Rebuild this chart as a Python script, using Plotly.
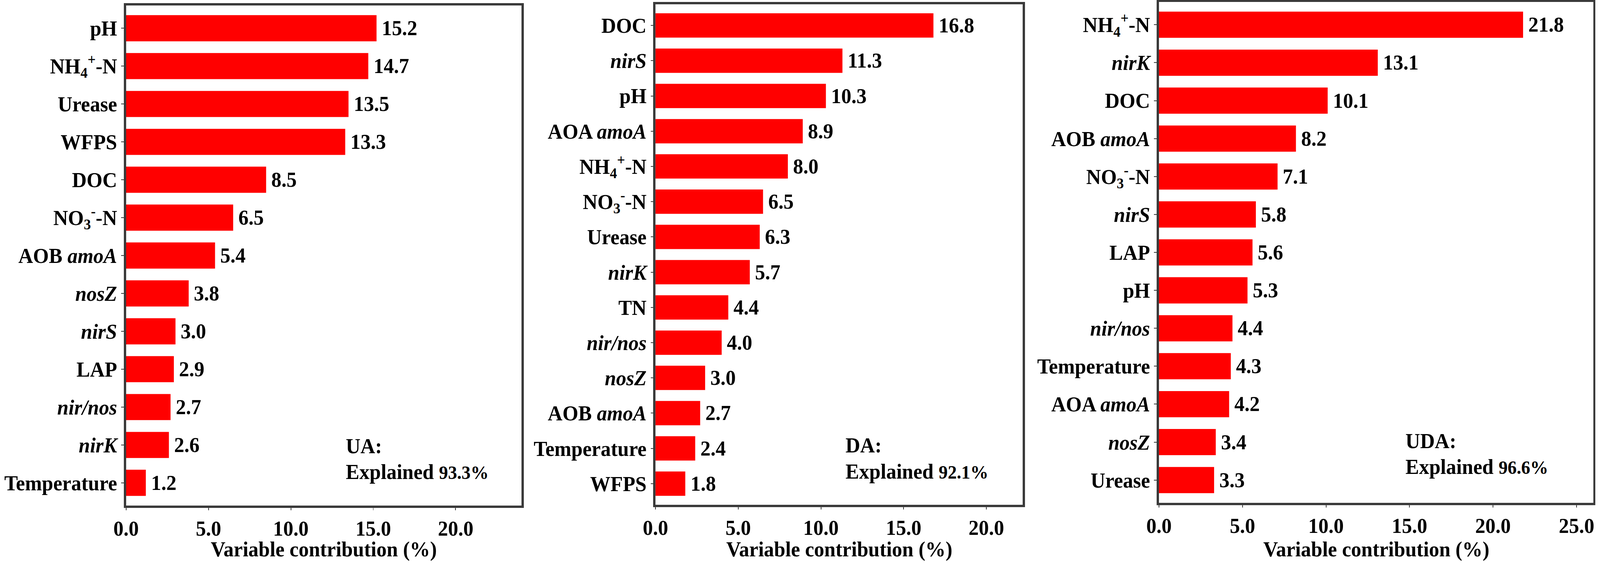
import plotly.graph_objects as go

NH4 = "NH<sub>4</sub><sup>+</sup>-N"
NO3 = "NO<sub>3</sub><sup>-</sup>-N"

ua_labels = ["pH", NH4, "Urease", "WFPS", "DOC", NO3, "AOB <i>amoA</i>", "<i>nosZ</i>",
             "<i>nirS</i>", "LAP", "<i>nir/nos</i>", "<i>nirK</i>", "Temperature"]
ua_values = [15.2, 14.7, 13.5, 13.3, 8.5, 6.5, 5.4, 3.8, 3.0, 2.9, 2.7, 2.6, 1.2]

da_labels = ["DOC", "<i>nirS</i>", "pH", "AOA <i>amoA</i>", NH4, NO3, "Urease", "<i>nirK</i>",
             "TN", "<i>nir/nos</i>", "<i>nosZ</i>", "AOB <i>amoA</i>", "Temperature", "WFPS"]
da_values = [16.8, 11.3, 10.3, 8.9, 8.0, 6.5, 6.3, 5.7, 4.4, 4.0, 3.0, 2.7, 2.4, 1.8]

uda_labels = [NH4, "<i>nirK</i>", "DOC", "AOB <i>amoA</i>", NO3, "<i>nirS</i>", "LAP", "pH",
              "<i>nir/nos</i>", "Temperature", "AOA <i>amoA</i>", "<i>nosZ</i>", "Urease"]
uda_values = [21.8, 13.1, 10.1, 8.2, 7.1, 5.8, 5.6, 5.3, 4.4, 4.3, 4.2, 3.4, 3.3]

panel_names = ["UA:", "DA:", "UDA:"]
explained = ["93.3%", "92.1%", "96.6%"]
x_title = "Variable contribution (%)"

W, H = 4252, 1441
FONT = "Liberation Serif"
FS = 54
LINE = "#3a3a3a"

panels = [
    dict(labels=ua_labels, values=ua_values, xd=[335, 1386], yd=[14, 1294], xmax=24.0,
         ann=(917, 1142, 1208)),
    dict(labels=da_labels, values=da_values, xd=[1742, 2718], yd=[11, 1292], xmax=22.2,
         ann=(2245, 1140, 1207)),
    dict(labels=uda_labels, values=uda_values, xd=[3080, 4234], yd=[5, 1287], xmax=26.0,
         ann=(3733, 1129, 1195)),
]

def font(size=FS):
    return dict(family=FONT, size=size, color="black", weight="bold")

fig = go.Figure()
annotations = []
for i, p in enumerate(panels):
    k = "" if i == 0 else str(i + 1)
    n = len(p["labels"])
    fig.add_trace(go.Bar(
        x=p["values"], y=p["labels"], orientation="h",
        marker=dict(color="#ff0000", line=dict(width=0)),
        width=0.69,
        text=["\u2009" + f"{v:.1f}" for v in p["values"]],
        textposition="outside", constraintext="none", cliponaxis=False,
        textfont=font(),
        xaxis="x" + k, yaxis="y" + k, showlegend=False, hoverinfo="skip",
    ))
    xdom = [p["xd"][0] / W, p["xd"][1] / W]
    ydom = [1 - p["yd"][1] / H, 1 - p["yd"][0] / H]
    fig.update_layout(**{
        "xaxis" + k: dict(
            domain=xdom, anchor="y" + k, range=[0, p["xmax"]], dtick=5, tick0=0,
            tickformat=".1f", showgrid=False, zeroline=False, automargin=False,
            showline=True, linecolor=LINE, linewidth=6, mirror=True,
            ticks="outside", ticklen=6, tickwidth=2, tickcolor=LINE,
            tickfont=font(),
        ),
        "yaxis" + k: dict(
            domain=ydom, anchor="x" + k, type="category", automargin=False,
            categoryorder="array", categoryarray=p["labels"],
            range=[n - 1 + 0.6, -0.6], showgrid=False, zeroline=False,
            showline=True, linecolor=LINE, linewidth=6, mirror=True,
            ticks="outside", ticklen=7, tickwidth=2, tickcolor=LINE,
            tickfont=font(),
        ),
    })
    ax, y1, y2 = p["ann"]
    annotations.append(dict(
        x=ax / W, y=1 - y1 / H, xref="paper", yref="paper", xanchor="left", yanchor="middle",
        text=panel_names[i], showarrow=False, font=font()))
    annotations.append(dict(
        x=ax / W, y=1 - y2 / H, xref="paper", yref="paper", xanchor="left", yanchor="middle",
        text="Explained <span style='font-size:48px'>" + explained[i] + "</span>",
        showarrow=False, font=font()))
    annotations.append(dict(
        x=(xdom[0] + xdom[1]) / 2, y=1 - 1406 / H, xref="paper", yref="paper",
        xanchor="center", yanchor="middle", text=x_title, showarrow=False, font=font()))

fig.update_layout(
    template="none",
    width=W, height=H,
    margin=dict(l=0, r=0, t=0, b=0, autoexpand=False),
    paper_bgcolor="white", plot_bgcolor="white",
    font=font(),
    annotations=annotations, bargap=0.3,
)

# fit the fixed 4252x1441 figure into whatever viewport the page is shown in
post = (
    "document.documentElement.style.margin='0';"
    "document.documentElement.style.overflow='hidden';"
    "document.body.style.margin='0';"
    "document.body.style.overflow='hidden';"
    "var gd=document.getElementById('{plot_id}');"
    "var sx=window.innerWidth/%d, sy=window.innerHeight/%d;"
    "gd.style.transformOrigin='0 0';"
    "gd.style.transform='scale('+sx+','+sy+')';" % (W, H)
)

fig.write_html(
    "out.html",
    config={"displayModeBar": False},
    post_script=post,
)
